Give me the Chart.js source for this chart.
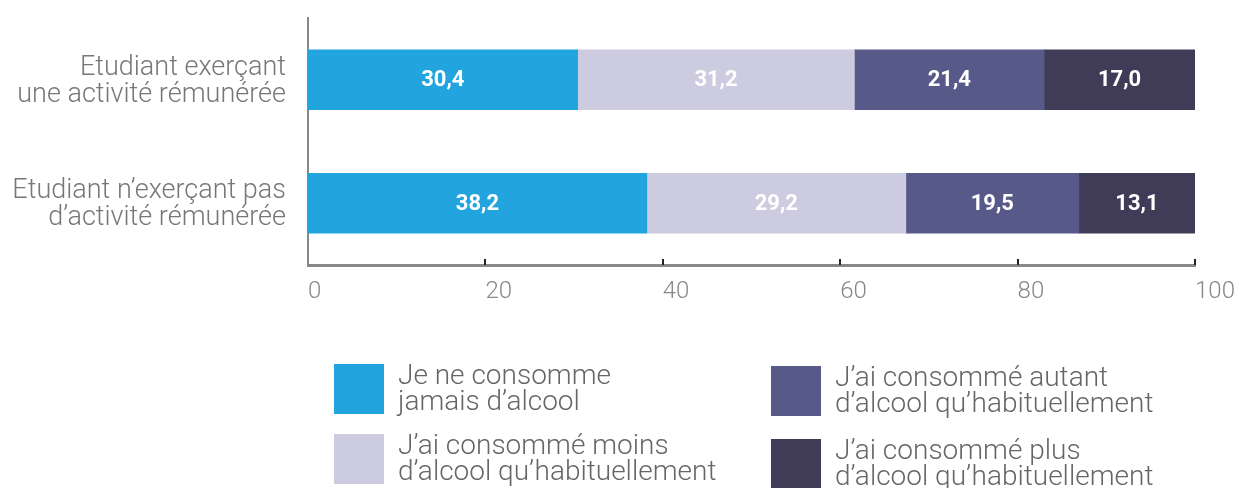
<!DOCTYPE html>
<html lang="fr">
<head>
<meta charset="utf-8">
<script src="https://cdn.jsdelivr.net/npm/chart.js@4/dist/chart.umd.min.js"></script>
<style>
  html, body { margin: 0; padding: 0; background: #fff; }
  #wrap { width: 1236px; height: 488px; position: relative; }
</style>
</head>
<body>
<div id="wrap"><canvas id="chart"></canvas></div>
<script>
// categories (two lines each)
const categories = [
  ["Etudiant exerçant", "une activité rémunérée"],
  ["Etudiant n\u2019exerçant pas", "d\u2019activité rémunérée"]
];

// series (percent)
const jamais = [30.4, 38.2];
const moins = [31.2, 29.2];
const autant = [21.4, 19.5];
const plus = [17.0, 13.1];

const seriesNames = [
  ["Je ne consomme", "jamais d\u2019alcool"],
  ["J\u2019ai consommé moins", "d\u2019alcool qu\u2019habituellement"],
  ["J\u2019ai consommé autant", "d\u2019alcool qu\u2019habituellement"],
  ["J\u2019ai consommé plus", "d\u2019alcool qu\u2019habituellement"]
];
const seriesColors = ["#22a4df", "#cdcbdf", "#575a89", "#403b56"];

const xTicks = [0, 20, 40, 60, 80, 100];

const FONT = "Roboto, 'Noto Sans', sans-serif";

// bar value labels, written with a decimal comma
const valueLabels = {
  id: "valueLabels",
  afterDatasetsDraw(chart) {
    const ctx = chart.ctx;
    ctx.save();
    ctx.font = "bold 22px " + FONT;
    ctx.fillStyle = "#fff";
    ctx.textAlign = "center";
    ctx.textBaseline = "middle";
    chart.data.datasets.forEach((ds, i) => {
      chart.getDatasetMeta(i).data.forEach((bar, j) => {
        const p = bar.getCenterPoint();
        ctx.fillText(ds.data[j].toFixed(1).replace(".", ","), p.x, p.y + 1);
      });
    });
    ctx.restore();
  }
};

// category names, right-aligned left of the y axis
const categoryLabels = {
  id: "categoryLabels",
  afterDraw(chart) {
    const ctx = chart.ctx;
    const y = chart.scales.y;
    ctx.save();
    ctx.font = "300 27px " + FONT;
    ctx.fillStyle = "#777";
    ctx.textAlign = "right";
    ctx.textBaseline = "middle";
    chart.data.labels.forEach((lines, i) => {
      const cy = y.getPixelForValue(i);
      lines.forEach((line, k) => {
        ctx.fillText(line, y.right - 22, cy - 12 + k * 27);
      });
    });
    ctx.restore();
  }
};

// small tick marks pointing up from the x axis
const innerTicks = {
  id: "innerTicks",
  afterDraw(chart) {
    const ctx = chart.ctx;
    const x = chart.scales.x;
    ctx.save();
    ctx.strokeStyle = "#222";
    ctx.lineWidth = 2;
    xTicks.slice(1).forEach(v => {
      const px = Math.round(x.getPixelForValue(v));
      ctx.beginPath();
      ctx.moveTo(px, x.top - 6);
      ctx.lineTo(px, x.top);
      ctx.stroke();
    });
    ctx.restore();
  }
};

// two-column legend under the chart
const boxLegend = {
  id: "boxLegend",
  afterDraw(chart) {
    const ctx = chart.ctx;
    const slots = [
      { x: 334, y: 364 },
      { x: 334, y: 434 },
      { x: 771, y: 366 },
      { x: 771, y: 439 }
    ];
    ctx.save();
    ctx.font = "300 28px " + FONT;
    ctx.textBaseline = "middle";
    chart.data.datasets.forEach((ds, i) => {
      const s = slots[i];
      ctx.fillStyle = ds.backgroundColor;
      ctx.fillRect(s.x, s.y, 50, 50);
      ctx.fillStyle = "#666";
      ds.legendLines.forEach((line, k) => {
        ctx.fillText(line, s.x + 64, s.y + 13 + k * 26);
      });
    });
    ctx.restore();
  }
};

new Chart(document.getElementById("chart"), {
  type: "bar",
  data: {
    labels: categories,
    datasets: [jamais, moins, autant, plus].map((d, i) => ({
      label: seriesNames[i].join(" "),
      legendLines: seriesNames[i],
      data: d,
      backgroundColor: seriesColors[i],
      borderWidth: 0,
      barThickness: 60
    }))
  },
  options: {
    indexAxis: "y",
    responsive: true,
    maintainAspectRatio: false,
    animation: false,
    layout: { padding: { top: 18, right: 41, bottom: 183, left: 0 } },
    plugins: {
      legend: { display: false },
      tooltip: { enabled: false }
    },
    scales: {
      x: {
        stacked: true,
        min: 0,
        max: 100,
        afterBuildTicks(scale) {
          scale.ticks = xTicks.map(v => ({ value: v }));
        },
        afterFit(scale) {
          scale.height = 40;
          // "100" may run past the plot edge
          scale.paddingRight = 0;
          scale.paddingLeft = 0;
        },
        grid: { display: false },
        border: { display: true, color: "#888", width: 3 },
        ticks: {
          align: "start",
          padding: 5,
          color: "#888",
          font: { family: FONT, size: 24, weight: 300 }
        }
      },
      y: {
        stacked: true,
        afterFit(scale) { scale.width = 308; },
        grid: { display: false },
        border: { display: true, color: "#888", width: 2 },
        ticks: { display: false }
      }
    }
  },
  plugins: [valueLabels, categoryLabels, innerTicks, boxLegend]
});
</script>
</body>
</html>
